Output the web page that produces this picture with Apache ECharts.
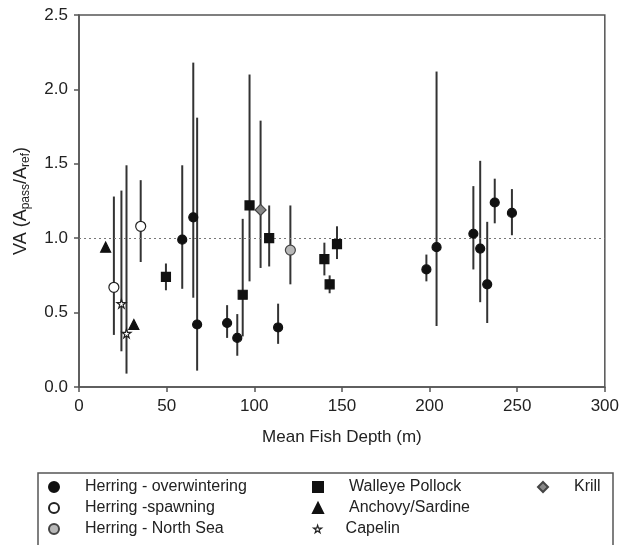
<!DOCTYPE html>
<html>
<head>
<meta charset="utf-8">
<script src="https://cdn.jsdelivr.net/npm/echarts@6/dist/echarts.min.js"></script>
<style>
  html, body { margin: 0; padding: 0; background: #fff; }
  #chart { width: 622px; height: 545px; }
</style>
</head>
<body>
<div id="chart"></div>
<script>
// data: [mean depth (m), VA, lower, upper]
var overwintering = [
  [58.9, 0.99, 0.66, 1.49], [65.2, 1.14, 0.60, 2.18], [67.4, 0.42, 0.11, 1.81],
  [84.5, 0.43, 0.33, 0.55], [90.3, 0.33, 0.21, 0.49], [113.6, 0.40, 0.29, 0.56],
  [198.2, 0.79, 0.71, 0.89], [204.0, 0.94, 0.41, 2.12], [225.0, 1.03, 0.79, 1.35],
  [228.9, 0.93, 0.57, 1.52], [232.9, 0.69, 0.43, 1.11], [237.2, 1.24, 1.10, 1.40],
  [247.0, 1.17, 1.02, 1.33]
];
var spawning = [[19.9, 0.67, 0.35, 1.28], [35.2, 1.08, 0.84, 1.39]];
var northSea = [[120.6, 0.92, 0.69, 1.22]];
var pollock = [
  [49.6, 0.74, 0.65, 0.83], [93.4, 0.62, 0.34, 1.13], [97.3, 1.22, 0.71, 2.10],
  [108.5, 1.00, 0.81, 1.22], [140.0, 0.86, 0.75, 0.97], [143.0, 0.69, 0.63, 0.75],
  [147.2, 0.96, 0.86, 1.08]
];
var anchovy = [[15.2, 0.94], [31.3, 0.42]];
var capelin = [[24.2, 0.56, 0.24, 1.32], [27.1, 0.36, 0.09, 1.49]];
var krill = [[103.6, 1.19, 0.80, 1.79]];

var xTicks = [0, 300, 50];     // min, max, interval
var yTicks = [0, 2.5, 0.5];

var font = 'Liberation Sans, Arial, sans-serif';
var starPath = 'path://M50,0 L61,35 L98,35 L68,57 L79,91 L50,70 L21,91 L32,57 L2,35 L39,35 Z';

// collect all error bars into one list
var bars = [];
[overwintering, spawning, northSea, pollock, capelin, krill].forEach(function (g) {
  g.forEach(function (d) { bars.push([d[0], d[2], d[3]]); });
});

function pts(g) {
  return g.map(function (d) { return [d[0], d[1]]; });
}

function scatter(name, data, symbol, size, fill, border) {
  return {
    name: name, type: 'scatter', data: pts(data), symbol: symbol, symbolSize: size,
    z: 5,
    itemStyle: { color: fill, borderColor: border, borderWidth: 1.2, opacity: 1 }
  };
}

var chart = echarts.init(document.getElementById('chart'));

var legendBase = {
  orient: 'vertical', padding: 0, itemGap: 5, itemWidth: 10, itemHeight: 10,
  selectedMode: false,
  textStyle: { fontFamily: font, fontSize: 16, color: '#222', padding: [0, 0, 0, 21] }
};

var option = {
  animation: false,
  backgroundColor: '#fff',
  grid: {
    left: 79, right: 14, top: 15, bottom: 158,
    show: true, borderColor: '#555', borderWidth: 1.5, backgroundColor: 'transparent'
  },
  xAxis: {
    type: 'value', min: xTicks[0], max: xTicks[1], interval: xTicks[2],
    name: 'Mean Fish Depth (m)', nameLocation: 'middle', nameGap: 42,
    nameTextStyle: { fontFamily: font, fontSize: 17, color: '#222' },
    axisLine: { show: true, lineStyle: { color: '#555', width: 1.5 } },
    axisTick: { show: true, inside: false, length: 5, lineStyle: { color: '#555', width: 1.5 } },
    axisLabel: { fontFamily: font, fontSize: 17, color: '#222', margin: 11 },
    splitLine: { show: false }
  },
  yAxis: {
    type: 'value', min: yTicks[0], max: yTicks[1], interval: yTicks[2],
    name: '{a|VA (A}{b|pass}{a|/A}{b|ref}{a|)}', nameLocation: 'middle', nameGap: 47,
    nameTextStyle: {
      fontFamily: font, fontSize: 18, color: '#222',
      rich: {
        a: { fontFamily: font, fontSize: 18, color: '#222' },
        b: { fontFamily: font, fontSize: 12, color: '#222', padding: [10, 0, 0, 0] }
      }
    },
    axisLine: { show: true, lineStyle: { color: '#555', width: 1.5 } },
    axisTick: { show: true, inside: false, length: 5, lineStyle: { color: '#555', width: 1.5 } },
    axisLabel: {
      fontFamily: font, fontSize: 17, color: '#222', margin: 11,
      formatter: function (v) { return v.toFixed(1); }
    },
    splitLine: { show: false }
  },
  legend: [
    Object.assign({}, legendBase, { left: 48, top: 479,
      data: ['Herring - overwintering', 'Herring -spawning', 'Herring - North Sea'] }),
    Object.assign({}, legendBase, { left: 312, top: 479,
      data: ['Walleye Pollock', 'Anchovy/Sardine'] }),
    // capelin star is drawn smaller in the key
    Object.assign({}, legendBase, { left: 313, top: 521, itemWidth: 8, itemHeight: 8,
      textStyle: Object.assign({}, legendBase.textStyle, { padding: [0, 0, 0, 19] }),
      data: [{ name: 'Capelin', icon: starPath,
        itemStyle: { color: '#fff', borderColor: '#222', borderWidth: 1.2 } }] }),
    Object.assign({}, legendBase, { left: 537, top: 479, data: ['Krill'] })
  ],
  graphic: [{
    type: 'rect', shape: { x: 38, y: 473, width: 575, height: 100 },
    style: { fill: 'none', stroke: '#555', lineWidth: 1.5 }, silent: true
  }],
  series: [
    {
      name: 'errors', type: 'custom', data: bars, z: 2,
      encode: { x: 0, y: [1, 2] },
      renderItem: function (params, api) {
        var lo = api.coord([api.value(0), api.value(1)]);
        var hi = api.coord([api.value(0), api.value(2)]);
        return {
          type: 'line',
          shape: { x1: lo[0], y1: lo[1], x2: hi[0], y2: hi[1] },
          style: { stroke: '#333', lineWidth: 2 }
        };
      },
      markLine: {
        silent: true, symbol: 'none', label: { show: false },
        lineStyle: { type: [2, 3], color: '#777', width: 1 },
        data: [{ yAxis: 1 }]
      }
    },
    scatter('Herring - overwintering', overwintering, 'circle', 9, '#111', '#111'),
    scatter('Herring -spawning', spawning, 'circle', 10, '#fff', '#222'),
    scatter('Herring - North Sea', northSea, 'circle', 10, '#b8b8b8', '#444'),
    scatter('Walleye Pollock', pollock, 'rect', 9, '#111', '#111'),
    scatter('Anchovy/Sardine', anchovy, 'triangle', 10, '#111', '#111'),
    scatter('Capelin', capelin, starPath, 9, '#fff', '#222'),
    scatter('Krill', krill, 'diamond', 11, '#888', '#444')
  ]
};

chart.setOption(option);
</script>
</body>
</html>
